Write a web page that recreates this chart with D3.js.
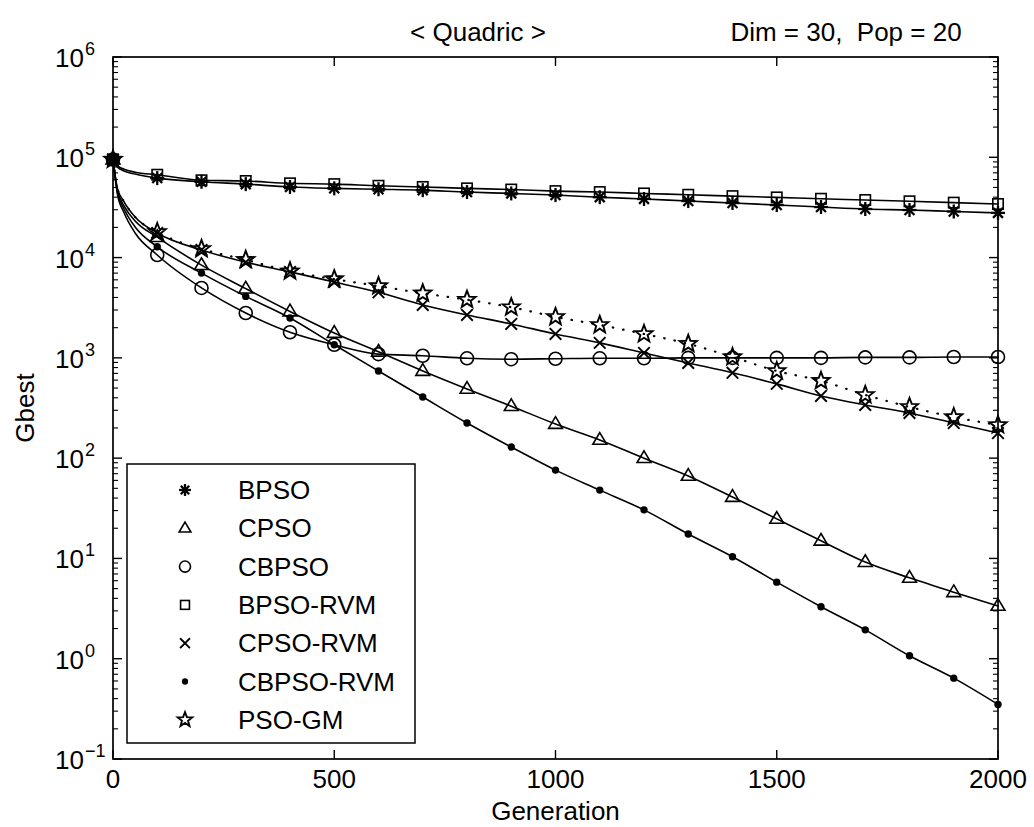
<!DOCTYPE html>
<html>
<head>
<meta charset="utf-8">
<script src="https://cdn.jsdelivr.net/npm/d3@7"></script>
<style>
  html, body { margin: 0; padding: 0; background: #fff; }
  svg text { font-family: "Liberation Sans", Arial, Helvetica, sans-serif; fill: #000; }
</style>
</head>
<body>
<svg id="chart" width="1034" height="827"></svg>
<script>
// ---------------- data ----------------
const generations = [0, 10, 25, 50, 100, 200, 300, 400, 500, 600, 700, 800, 900, 1000,
  1100, 1200, 1300, 1400, 1500, 1600, 1700, 1800, 1900, 2000];

const seriesNames = ["BPSO", "CPSO", "CBPSO", "BPSO-RVM", "CPSO-RVM", "CBPSO-RVM", "PSO-GM"];

const bpso = [9.5e4, 8.0e4, 7.3e4, 6.8e4, 6.2e4, 5.7e4, 5.4e4, 5.06e4, 4.9e4, 4.8e4, 4.7e4,
  4.5e4, 4.36e4, 4.2e4, 4.0e4, 3.84e4, 3.66e4, 3.5e4, 3.34e4, 3.19e4, 3.05e4, 2.98e4, 2.88e4, 2.79e4];
const cpso = [9.5e4, 4.7e4, 3.27e4, 2.32e4, 1.6e4, 8.4e3, 4.9e3, 2.9e3, 1.77e3, 1.15e3, 740,
  490, 330, 219, 152, 100, 66.5, 41, 24.8, 15, 9.2, 6.4, 4.6, 3.36];
const cbpso = [9.5e4, 4.3e4, 2.8e4, 1.76e4, 1.06e4, 4.98e3, 2.8e3, 1.8e3, 1.35e3, 1.09e3, 1.05e3,
  990, 970, 980, 990, 990, 1000, 1000, 1000, 1000, 1010, 1010, 1020, 1020];
const bpsoRvm = [9.5e4, 8.2e4, 7.6e4, 7.1e4, 6.7e4, 5.9e4, 5.8e4, 5.5e4, 5.4e4, 5.2e4, 5.06e4,
  4.9e4, 4.77e4, 4.6e4, 4.5e4, 4.36e4, 4.23e4, 4.1e4, 3.98e4, 3.86e4, 3.75e4, 3.64e4, 3.53e4, 3.42e4];
const cpsoRvm = [9.5e4, 4.9e4, 3.6e4, 2.54e4, 1.76e4, 1.19e4, 9.0e3, 7.2e3, 5.7e3, 4.5e3, 3.37e3,
  2.68e3, 2.18e3, 1.73e3, 1.41e3, 1.12e3, 890, 710, 550, 417, 339, 282, 224, 178];
const cbpsoRvm = [9.5e4, 4.5e4, 3.05e4, 2.02e4, 1.28e4, 7.0e3, 4.1e3, 2.5e3, 1.35e3, 740, 407,
  224, 129, 76, 48, 30.5, 17.5, 10.4, 5.8, 3.3, 1.94, 1.07, 0.64, 0.35];
const psoGm = [9.5e4, 4.9e4, 3.6e4, 2.54e4, 1.8e4, 1.22e4, 9.5e3, 7.3e3, 6.1e3, 5.2e3, 4.4e3,
  3.8e3, 3.2e3, 2.56e3, 2.13e3, 1.73e3, 1.38e3, 1.02e3, 740, 590, 427, 324, 257, 214];

const seriesValues = [bpso, cpso, cbpso, bpsoRvm, cpsoRvm, cbpsoRvm, psoGm];
const markerTypes = ["asterisk", "triangle", "circle", "square", "cross", "dot", "star"];
const lineDashed = [false, false, false, false, false, false, true];

const xTicks = [0, 500, 1000, 1500, 2000];
const yDecades = [-1, 0, 1, 2, 3, 4, 5, 6];

const titleText = "< Quadric >";
const infoText = "Dim = 30,  Pop = 20";
const xLabel = "Generation";
const yLabel = "Gbest";

// ---------------- layout ----------------
const svg = d3.select("#chart");
const L = 113, R = 998, T = 57, B = 759;
const FS = 26;

const x = d3.scaleLinear().domain([0, 2000]).range([L, R]);
const y = d3.scaleLog().domain([0.1, 1e6]).range([B, T]);

// ---------------- lines ----------------
const line = d3.line()
  .x(d => x(d[0]))
  .y(d => y(d[1]))
  .curve(d3.curveMonotoneX);

const plot = svg.append("g");
seriesValues.forEach((vals, i) => {
  const pts = generations.map((g, k) => [g, vals[k]]);
  plot.append("path")
    .attr("d", line(pts))
    .attr("fill", "none")
    .attr("stroke", "#000")
    .attr("stroke-width", lineDashed[i] ? 2.2 : 1.6)
    .attr("stroke-linecap", "round")
    .attr("stroke-dasharray", lineDashed[i] ? "0.5,10" : null);
});

// ---------------- markers ----------------
function starPath(r) {
  const pts = [];
  for (let k = 0; k < 10; k++) {
    const rr = k % 2 === 0 ? r : r * 0.42;
    const a = -Math.PI / 2 + k * Math.PI / 5;
    pts.push([rr * Math.cos(a), rr * Math.sin(a)]);
  }
  return "M" + pts.map(p => p[0].toFixed(2) + "," + p[1].toFixed(2)).join("L") + "Z";
}

function drawMarker(g, type, cx, cy, s) {
  const m = g.append("g").attr("transform", `translate(${cx},${cy})`);
  const sw = 1.6;
  if (type === "asterisk") {
    const r = 7 * s;
    [0, 45, 90, 135].forEach(a => {
      const rad = a * Math.PI / 180;
      m.append("line")
        .attr("x1", -r * Math.cos(rad)).attr("y1", -r * Math.sin(rad))
        .attr("x2", r * Math.cos(rad)).attr("y2", r * Math.sin(rad))
        .attr("stroke", "#000").attr("stroke-width", 2.3);
    });
  } else if (type === "triangle") {
    const r = 7.3 * s;
    m.append("path")
      .attr("d", `M0,${-r}L${r * 0.95},${r * 0.6}L${-r * 0.95},${r * 0.6}Z`)
      .attr("fill", "none").attr("stroke", "#000").attr("stroke-width", sw);
  } else if (type === "circle") {
    m.append("circle").attr("r", 6.5 * s)
      .attr("fill", "none").attr("stroke", "#000").attr("stroke-width", sw);
  } else if (type === "square") {
    const h = 5.2 * s;
    m.append("rect").attr("x", -h).attr("y", -h).attr("width", 2 * h).attr("height", 2 * h)
      .attr("fill", "none").attr("stroke", "#000").attr("stroke-width", sw);
  } else if (type === "cross") {
    const r = 5.8 * s;
    m.append("path").attr("d", `M${-r},${-r}L${r},${r}M${-r},${r}L${r},${-r}`)
      .attr("stroke", "#000").attr("stroke-width", 1.9);
  } else if (type === "dot") {
    m.append("circle").attr("r", 3.7 * s).attr("fill", "#000");
  } else if (type === "star") {
    m.append("path").attr("d", starPath(9 * s))
      .attr("fill", "none").attr("stroke", "#000").attr("stroke-width", 1.9);
  }
}

const markerLayer = svg.append("g");
seriesValues.forEach((vals, i) => {
  generations.forEach((g, k) => {
    if (g % 100 === 0) drawMarker(markerLayer, markerTypes[i], x(g), y(vals[k]), 1);
  });
});

// ---------------- axes frame & ticks ----------------
const axes = svg.append("g");
axes.append("rect")
  .attr("x", L).attr("y", T).attr("width", R - L).attr("height", B - T)
  .attr("fill", "none").attr("stroke", "#000").attr("stroke-width", 1.7);

const majorLen = 9, minorLen = 5;
xTicks.forEach(t => {
  axes.append("line").attr("x1", x(t)).attr("x2", x(t)).attr("y1", B).attr("y2", B - majorLen)
    .attr("stroke", "#000").attr("stroke-width", 1.4);
  axes.append("line").attr("x1", x(t)).attr("x2", x(t)).attr("y1", T).attr("y2", T + majorLen)
    .attr("stroke", "#000").attr("stroke-width", 1.4);
  axes.append("text").attr("x", x(t)).attr("y", B + 29)
    .attr("text-anchor", "middle").attr("font-size", FS).text(t);
});

yDecades.forEach(e => {
  const v = Math.pow(10, e);
  [[L, 1], [R, -1]].forEach(([ax, dir]) => {
    axes.append("line").attr("x1", ax).attr("x2", ax + dir * majorLen)
      .attr("y1", y(v)).attr("y2", y(v)).attr("stroke", "#000").attr("stroke-width", 1.4);
    if (e < 6) {
      for (let k = 2; k <= 9; k++) {
        const mv = k * v;
        axes.append("line").attr("x1", ax).attr("x2", ax + dir * minorLen)
          .attr("y1", y(mv)).attr("y2", y(mv)).attr("stroke", "#000").attr("stroke-width", 1.1);
      }
    }
  });
  axes.append("text").attr("x", 84).attr("y", y(v) + 10)
    .attr("text-anchor", "end").attr("font-size", FS).text("10");
  axes.append("text").attr("x", 85).attr("y", y(v) - 2)
    .attr("text-anchor", "start").attr("font-size", 18).text(String(e).replace("-", "\u2212"));
});

// ---------------- texts ----------------
svg.append("text").attr("x", 478).attr("y", 41).attr("text-anchor", "middle")
  .attr("font-size", FS).text(titleText);
svg.append("text").attr("x", 846).attr("y", 41).attr("text-anchor", "middle")
  .attr("font-size", FS).style("white-space", "pre").text(infoText);
svg.append("text").attr("x", (L + R) / 2).attr("y", 820).attr("text-anchor", "middle")
  .attr("font-size", FS).text(xLabel);
svg.append("text").attr("transform", "translate(34,408) rotate(-90)")
  .attr("text-anchor", "middle").attr("font-size", FS).text(yLabel);

// ---------------- legend ----------------
const lg = svg.append("g");
lg.append("rect").attr("x", 127).attr("y", 464).attr("width", 288).attr("height", 279)
  .attr("fill", "#fff").attr("stroke", "#000").attr("stroke-width", 1.5);
seriesNames.forEach((name, i) => {
  const ry = 490 + i * 38.3;
  drawMarker(lg, markerTypes[i], 185, ry, 0.85);
  lg.append("text").attr("x", 238).attr("y", ry + 9).attr("font-size", FS).text(name);
});
</script>
</body>
</html>
